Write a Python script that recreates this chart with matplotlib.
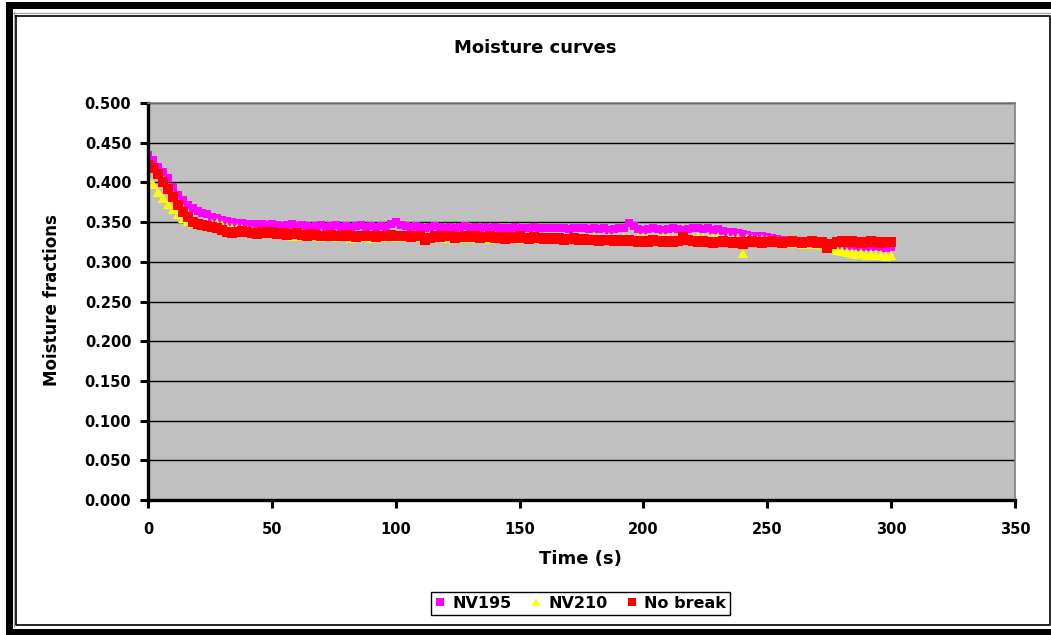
import numpy as np
import matplotlib
matplotlib.use("Agg")
import matplotlib.pyplot as plt
from matplotlib.patches import Rectangle
from matplotlib.lines import Line2D

# ---------------- data ----------------
time_s = list(range(0, 301, 2))

nv195 = [0.434,0.428,0.420,0.413,0.405,0.394,0.384,0.378,0.372,0.368,0.364,0.362,0.360,0.357,0.355,0.353,0.351,0.350,0.349,0.349,0.348,
         0.347,0.348,0.347,0.346,0.347,0.346,0.345,0.346,0.347,0.345,0.346,0.345,0.344,0.345,0.346,0.344,0.345,0.346,0.344,0.345,0.344,0.345,0.346,0.344,0.345,0.344,0.345,0.344,0.348,0.350,
         0.346,0.345,0.344,0.345,0.344,0.343,0.344,0.345,0.344,0.343,0.344,0.343,0.344,0.345,0.343,0.344,0.343,0.344,0.343,0.344,0.343,0.342,0.343,0.344,0.343,0.342,0.343,0.344,0.343,0.342,
         0.343,0.342,0.343,0.342,0.341,0.342,0.343,0.342,0.341,0.342,0.341,0.342,0.340,0.341,0.342,0.343,0.349,0.345,0.341,0.340,0.341,0.342,0.341,0.340,0.341,0.342,0.341,0.340,0.341,0.342,
         0.343,0.341,0.342,0.340,0.341,0.339,0.338,0.337,0.336,0.335,0.334,0.333,0.332,0.333,0.331,0.330,0.329,0.328,0.327,0.328,0.326,0.325,0.326,0.324,0.323,0.324,0.322,0.321,0.322,0.321,
         0.320,0.321,0.320,0.319,0.320,0.319,0.320,0.319,0.318,0.319]

nv210 = [0.405,0.398,0.388,0.380,0.373,0.366,0.360,0.355,0.351,0.349,0.347,0.346,0.345,0.347,0.349,0.346,0.344,0.343,0.342,0.341,0.340,
         0.339,0.338,0.337,0.338,0.336,0.335,0.336,0.334,0.333,0.335,0.332,0.333,0.334,0.332,0.331,0.333,0.332,0.331,0.333,0.332,0.330,0.332,0.331,0.333,0.330,0.332,0.331,0.333,0.332,0.331,
         0.332,0.331,0.333,0.332,0.331,0.332,0.330,0.331,0.332,0.330,0.331,0.332,0.330,0.331,0.330,0.332,0.331,0.330,0.329,0.331,0.330,0.329,0.331,0.330,0.329,0.330,0.331,0.329,0.330,0.329,
         0.330,0.329,0.331,0.330,0.329,0.330,0.331,0.329,0.330,0.331,0.330,0.329,0.331,0.330,0.329,0.331,0.330,0.329,0.330,0.331,0.330,0.329,0.330,0.331,0.330,0.329,0.330,0.331,0.329,0.330,
         0.331,0.330,0.329,0.330,0.331,0.329,0.330,0.329,0.330,0.311,0.330,0.329,0.328,0.329,0.327,0.328,0.326,0.325,0.326,0.324,0.325,0.323,0.324,0.322,0.323,0.321,0.318,0.317,0.315,0.313,
         0.312,0.311,0.310,0.311,0.309,0.310,0.308,0.309,0.307,0.308]

no_break = [0.422,0.418,0.410,0.401,0.392,0.381,0.371,0.363,0.356,0.350,0.348,0.346,0.345,0.344,0.342,0.340,0.338,0.336,0.338,0.339,0.337,
            0.336,0.335,0.337,0.336,0.338,0.335,0.336,0.334,0.335,0.336,0.334,0.333,0.335,0.334,0.332,0.333,0.334,0.333,0.332,0.334,0.333,0.331,0.333,0.332,0.333,0.331,0.333,0.332,0.334,0.333,
            0.332,0.333,0.331,0.333,0.332,0.327,0.330,0.332,0.331,0.333,0.332,0.330,0.331,0.333,0.331,0.332,0.330,0.331,0.332,0.330,0.331,0.329,0.331,0.330,0.332,0.330,0.329,0.331,0.330,0.329,
            0.330,0.329,0.330,0.328,0.329,0.330,0.328,0.329,0.327,0.328,0.326,0.327,0.328,0.326,0.327,0.326,0.327,0.326,0.325,0.326,0.325,0.327,0.326,0.325,0.326,0.325,0.326,0.331,0.328,0.326,
            0.325,0.326,0.325,0.324,0.325,0.326,0.325,0.324,0.325,0.323,0.325,0.326,0.325,0.324,0.325,0.326,0.325,0.324,0.325,0.326,0.325,0.324,0.325,0.326,0.324,0.325,0.318,0.322,0.325,0.326,
            0.325,0.326,0.325,0.324,0.325,0.326,0.325,0.324,0.325,0.325]

series_names = ["NV195", "NV210", "No break"]
x_ticks = [0, 50, 100, 150, 200, 250, 300, 350]
y_ticks = [0.0, 0.05, 0.1, 0.15, 0.2, 0.25, 0.3, 0.35, 0.4, 0.45, 0.5]

# ---------------- figure ----------------
W, H = 1051, 635
fig = plt.figure(figsize=(W / 100, H / 100), dpi=100)
FONT = "DejaVu Sans"

def px_rect(x0, y0, x1, y1, **kw):
    fig.patches.append(Rectangle((x0 / W, 1 - y1 / H), (x1 - x0) / W, (y1 - y0) / H,
                                 transform=fig.transFigure, figure=fig, **kw))

def px_line(xs, ys, **kw):
    fig.add_artist(Line2D([x / W for x in xs], [1 - y / H for y in ys],
                          transform=fig.transFigure, **kw))

# outer thick black frame (right side is cut off)
px_rect(6, 2, 13, 635, color="black", lw=0)
px_rect(6, 2, 1051, 9, color="black", lw=0)
px_rect(6, 629, 1051, 635, color="black", lw=0)
# inner thin frame
px_line([13.5, 13.5], [12, 627], color="#A0A0A0", lw=0.8)
px_line([13, 1051], [12.5, 12.5], color="#A0A0A0", lw=0.8)
px_line([15.5, 15.5, 1049.5, 1049.5, 15.5], [15.5, 624.5, 624.5, 15.5, 15.5], color="black", lw=1.2)

left, right, top, bottom = 148, 1015, 103, 500
ax = fig.add_axes([left / W, 1 - bottom / H, (right - left) / W, (bottom - top) / H])
ax.set_facecolor("#C0C0C0")
ax.set_xlim(0, 350)
ax.set_ylim(0, 0.5)
ax.set_xticks(x_ticks)
ax.set_yticks(y_ticks)
ax.set_yticklabels([f"{v:.3f}" for v in y_ticks])
ax.yaxis.grid(True, color="black", lw=1.0)
ax.set_axisbelow(True)

for s in ("top", "right"):
    ax.spines[s].set_color("#808080")
    ax.spines[s].set_linewidth(1.2)
for s in ("left", "bottom"):
    ax.spines[s].set_color("black")
    ax.spines[s].set_linewidth(2.4)

ax.tick_params(axis="both", which="major", direction="out", length=6, width=2.2,
               color="black", labelsize=10.5, pad=6)
for lab in ax.get_xticklabels() + ax.get_yticklabels():
    lab.set_fontfamily(FONT)
    lab.set_fontweight("bold")
ax.tick_params(axis="x", pad=10)

ax.plot(time_s, nv195, linestyle="none", marker="s", markersize=6.2,
        color="#FF00FF", markeredgewidth=0, label=series_names[0])
ax.plot(time_s, nv210, linestyle="none", marker="^", markersize=7.2,
        color="#FFFF00", markeredgewidth=0, label=series_names[1])
ax.plot(time_s, no_break, linestyle="none", marker="s", markersize=6.6,
        color="#FF0000", markeredgewidth=0, label=series_names[2])

fig.text(535 / W, 1 - 48 / H, "Moisture curves", ha="center", va="center",
         fontsize=13, fontweight="bold", family=FONT)
fig.text(52 / W, 1 - 300 / H, "Moisture fractions", ha="center", va="center",
         rotation=90, fontsize=12, fontweight="bold", family=FONT)
fig.text(580 / W, 1 - 559 / H, "Time (s)", ha="center", va="center",
         fontsize=13, fontweight="bold", family=FONT)

leg = fig.legend(loc="center", bbox_to_anchor=(580.5 / W, 1 - 603.5 / H), ncol=3,
                 frameon=True, fancybox=False, edgecolor="black", framealpha=1,
                 handlelength=0.6, handletextpad=0.5, columnspacing=1.2,
                 borderpad=0.25, markerscale=0.85,
                 prop={"family": FONT, "weight": "bold", "size": 11.5})
leg.get_frame().set_linewidth(1.0)

fig.savefig("out.png", dpi=100, facecolor="white")
